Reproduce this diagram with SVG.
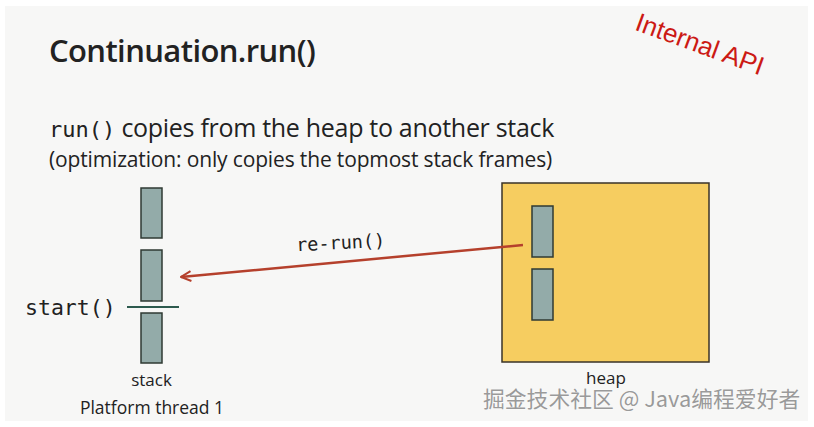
<svg xmlns="http://www.w3.org/2000/svg" width="814" height="427" viewBox="0 0 814 427">
<style>
.frame{fill:#93aba9;stroke:#2f3a33;stroke-width:1.5}
.sans{font-family:"Open Sans","Noto Sans","Liberation Sans",sans-serif;fill:#222}
.mono{font-family:"DejaVu Sans Mono","Liberation Mono",monospace;fill:#222}
</style>
<defs>
<marker id="ah" viewBox="0 0 12 12" refX="11" refY="6" markerWidth="12" markerHeight="12" markerUnits="userSpaceOnUse" orient="auto">
<path d="M1,1 L11,6 L1,11" fill="none" stroke="#b5402c" stroke-width="2"/>
</marker>
</defs>
<rect width="814" height="427" fill="#ffffff"/>
<rect x="5" y="6" width="803" height="415" fill="#f7f7f6"/>
<text x="49" y="62" class="sans" font-size="31" font-weight="600" letter-spacing="-0.6">Continuation.run()</text>
<text x="700" y="53" transform="rotate(20 700 44)" font-family="Liberation Sans,Arial,sans-serif" font-size="26" fill="#cc1a14" text-anchor="middle">Internal API</text>
<text x="49" y="137" font-size="25" class="sans" letter-spacing="-0.3"><tspan class="mono" font-size="22" letter-spacing="0">run()</tspan> copies from the heap to another stack</text>
<text x="49" y="167" class="sans" font-size="21" letter-spacing="-0.15">(optimization: only copies the topmost stack frames)</text>
<g id="stack">
<rect class="frame" x="141" y="188" width="21" height="50"/>
<rect class="frame" x="141" y="250" width="21" height="51"/>
<rect class="frame" x="141" y="313" width="21" height="50"/>
<line x1="127" y1="307" x2="179" y2="307" stroke="#2d5a4e" stroke-width="2"/>
<text x="151.5" y="386" class="sans" font-size="17" text-anchor="middle">stack</text>
<text x="152" y="414" class="sans" font-size="17.5" text-anchor="middle">Platform thread 1</text>
</g>
<g id="start">
<text x="25" y="315" class="mono" font-size="21.5">start()</text>
</g>
<g id="heap">
<rect x="502" y="183" width="207" height="179" fill="#f6cd60" stroke="#3a3328" stroke-width="1.5"/>
<rect class="frame" x="532" y="206" width="21" height="51"/>
<rect class="frame" x="532" y="269" width="21" height="51"/>
<text x="606" y="384" class="sans" font-size="17" text-anchor="middle">heap</text>
</g>
<g id="connectors">
<line x1="523" y1="245" x2="181" y2="277" stroke="#b5402c" stroke-width="2.5" marker-end="url(#ah)"/>
<text x="341" y="249" class="mono" font-size="18.5" text-anchor="middle" transform="rotate(-3 341 249)">re-run()</text>
</g>
<text x="483" y="407" font-family="Noto Sans CJK SC,Noto Sans,sans-serif" font-size="21.8" fill="#9a9a9a" stroke="#ffffff" stroke-width="0.6" paint-order="stroke">掘金技术社区 @ Java编程爱好者</text>
</svg>
